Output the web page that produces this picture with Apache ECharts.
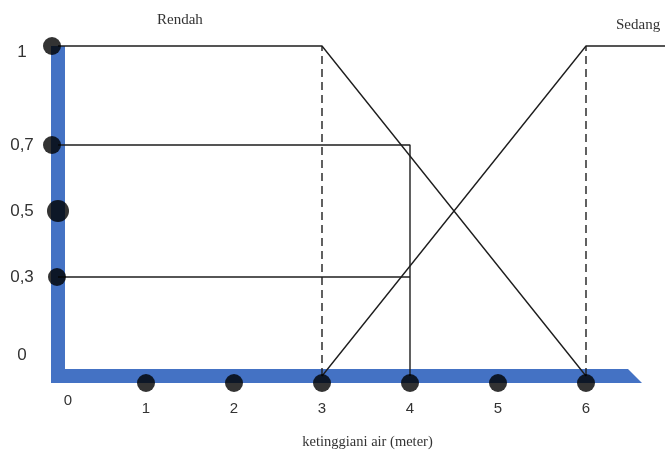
<!DOCTYPE html>
<html>
<head>
<meta charset="utf-8">
<script src="https://cdn.jsdelivr.net/npm/echarts@6/dist/echarts.min.js"></script>
<style>html,body{margin:0;padding:0;background:#fff}#c{width:665px;height:453px}</style>
</head>
<body>
<div id="c"></div>
<script>
// ---- data ----
const xTickValues = [0, 1, 2, 3, 4, 5, 6];
const yTickValues = [0, 0.3, 0.5, 0.7, 1];
const yTickLabels = ['0', '0,3', '0,5', '0,7', '1'];
const rendah = [[0, 1], [3, 1], [6, 0]];
const sedang = [[3, 0], [6, 1], [7, 1]];
const dashed3 = [[3, 0], [3, 1]];
const dashed6 = [[6, 0], [6, 1]];
const guide07 = [[0, 0.7], [4, 0.7], [4, 0]];
const guide03 = [[0, 0.3], [4, 0.3]];
const yDotValues = [1, 0.7, 0.5, 0.3];
const xDotValues = [1, 2, 3, 4, 5, 6];
const setNames = ['Rendah', 'Sedang'];
const xAxisTitle = 'ketinggiani air (meter)';

const BLUE = '#4472C4';
const INK = '#1e1e1e';

const chart = echarts.init(document.getElementById('c'), null, {renderer: 'canvas'});

// data lines live on grid 0 (wide, hidden axes); visible blue axes on grid 1
const lineBase = {type: 'line', symbol: 'none', silent: true, clip: false,
  xAxisIndex: 0, yAxisIndex: 0,
  lineStyle: {color: INK, width: 1.4}, z: 3};

const yDotData = yDotValues.map(v => ({
  value: [0, v],
  symbolSize: v === 0.5 ? 22 : 18,
  symbolOffset: v === 0.5 ? [0, 0] : (v === 0.3 ? [-1, 0] : [-6, 0])
}));
const xDotData = xDotValues.map(v => ({value: [v, 0]}));

const dotStyle = {color: '#000', borderWidth: 0};

chart.setOption({
  animation: false,
  backgroundColor: '#fff',
  title: [
    {text: setNames[0], left: 152, top: 8,
      textStyle: {fontFamily: 'Liberation Serif', fontSize: 15, fontWeight: 'normal', color: '#333'}},
    {text: setNames[1], left: 611, top: 13,
      textStyle: {fontFamily: 'Liberation Serif', fontSize: 15, fontWeight: 'normal', color: '#333'}}
  ],
  grid: [
    {left: 58, right: -9, top: 46, bottom: 77, containLabel: false, outerBoundsMode: 'none'},
    {left: 58, right: 44, top: 46, bottom: 77, containLabel: false, outerBoundsMode: 'none'}
  ],
  xAxis: [
    {gridIndex: 0, type: 'value', min: 0, max: 7, show: false},
    {
      gridIndex: 1, type: 'value', min: 0, max: 6.4, interval: 1,
      name: xAxisTitle, nameLocation: 'middle', nameGap: 59,
      nameTextStyle: {fontFamily: 'Liberation Serif', fontSize: 14.5, color: '#333', padding: [0, 0, 0, 56]},
      axisLine: {show: true, onZero: false,
        symbol: ['none', 'path://M0,42 L0,14 L14,0 L14,42 Z'], symbolSize: [14, 42],
        lineStyle: {color: BLUE, width: 14, cap: 'square'}},
      axisTick: {show: false},
      splitLine: {show: false},
      axisLabel: {
        margin: 33, verticalAlign: 'middle',
        fontFamily: 'Liberation Sans', fontSize: 15, color: '#333',
        formatter: function (v) {
          const r = Math.round(v * 10) / 10;
          if (xTickValues.indexOf(r) < 0) return '';
          return r === 0 ? '{z|0}' : String(r);
        },
        rich: {z: {fontFamily: 'Liberation Sans', fontSize: 15, color: '#333', padding: [0, 0, 16, 20]}}
      }
    }
  ],
  yAxis: [
    {gridIndex: 0, type: 'value', min: 0, max: 1, show: false},
    {
      gridIndex: 1, type: 'value', min: 0, max: 1, interval: 0.1,
      axisLine: {show: true, onZero: false, lineStyle: {color: BLUE, width: 14, cap: 'butt'}},
      axisTick: {show: false},
      splitLine: {show: false},
      axisLabel: {
        margin: 36, align: 'center', verticalAlign: 'middle',
        fontFamily: 'Liberation Sans', fontSize: 17, color: '#333',
        formatter: function (v) {
          const r = Math.round(v * 10) / 10;
          const i = yTickValues.indexOf(r);
          if (i < 0) return '';
          if (r === 0) return '{z|' + yTickLabels[i] + '}';
          if (r === 1) return '{o|' + yTickLabels[i] + '}';
          return yTickLabels[i];
        },
        rich: {
          z: {fontFamily: 'Liberation Sans', fontSize: 17, color: '#333', padding: [0, 0, 42, 0]},
          o: {fontFamily: 'Liberation Sans', fontSize: 17, color: '#333', padding: [12, 0, 0, 0]}
        }
      }
    }
  ],
  series: [
    Object.assign({}, lineBase, {name: setNames[0], data: rendah}),
    Object.assign({}, lineBase, {name: setNames[1], data: sedang}),
    Object.assign({}, lineBase, {data: dashed3, lineStyle: {color: INK, width: 1.4, type: [8, 5]}}),
    Object.assign({}, lineBase, {data: dashed6, lineStyle: {color: INK, width: 1.4, type: [8, 5]}}),
    Object.assign({}, lineBase, {data: guide07}),
    Object.assign({}, lineBase, {data: guide03}),
    {type: 'scatter', xAxisIndex: 0, yAxisIndex: 0, data: yDotData, symbol: 'circle', silent: true, z: 5,
      itemStyle: dotStyle},
    {type: 'scatter', xAxisIndex: 0, yAxisIndex: 0, data: xDotData, symbol: 'circle', symbolSize: 18,
      symbolOffset: [0, 7], silent: true, z: 5, itemStyle: dotStyle}
  ]
});
</script>
</body>
</html>
